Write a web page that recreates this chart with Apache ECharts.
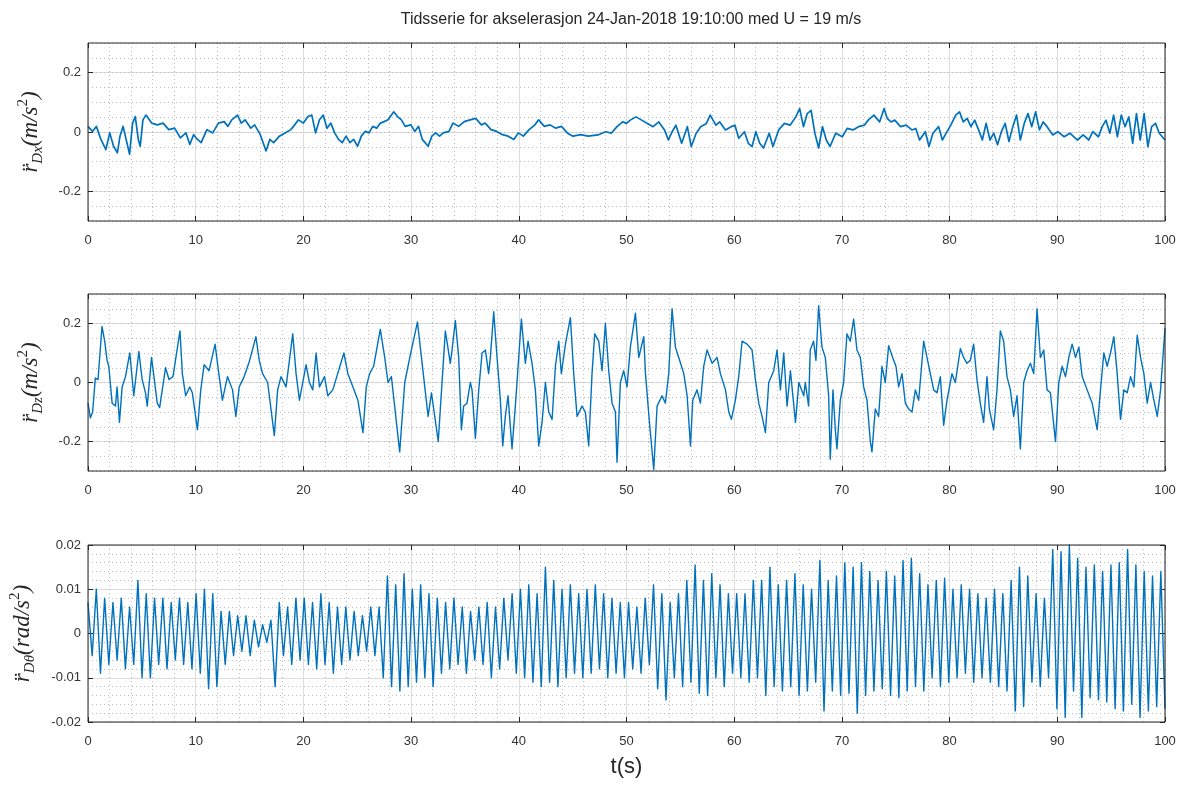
<!DOCTYPE html>
<html>
<head>
<meta charset="utf-8">
<script src="https://cdn.jsdelivr.net/npm/echarts/dist/echarts.min.js"></script>
<style>html,body{margin:0;padding:0;background:#fff}#chart{width:1187px;height:785px}</style>
</head>
<body>
<div id="chart"></div>
<script>
// ---------------- data ----------------
const chartTitle = 'Tidsserie for akselerasjon 24-Jan-2018 19:10:00 med U = 19 m/s';
const timeLabel = 't(s)';
const timeMin = 0, timeMax = 100, timeStep = 10;
const accelMajorTicks = [-0.2, 0, 0.2];
const thetaMajorTicks = [-0.02, -0.01, 0, 0.01, 0.02];

// r''_Dx  [t (s), m/s^2]
const dxSeries = [[0,0.019],[0.42,0.002],[0.78,0.019],[1.2,-0.025],[1.66,-0.059],[2.02,-0.003],[2.37,-0.048],[2.73,-0.07],[2.97,-0.014],[3.26,0.019],[3.61,-0.036],[3.86,-0.075],[4.14,0.03],[4.39,0.052],[4.67,-0.025],[4.85,-0.048],[5.1,0.041],[5.38,0.057],[5.91,0.03],[6.44,0.024],[6.97,0.03],[7.5,0.008],[8.04,0.013],[8.57,-0.02],[9.1,-0.003],[9.45,-0.042],[9.81,-0.009],[10.16,-0.025],[10.51,-0.036],[11.04,0.008],[11.58,-0.003],[12.11,0.03],[12.64,0.035],[12.99,0.019],[13.35,0.041],[13.88,0.057],[14.23,0.03],[14.58,0.041],[15.12,0.013],[15.47,0.024],[16,-0.009],[16.53,-0.064],[16.88,-0.025],[17.24,-0.036],[17.77,-0.014],[18.3,-0.003],[18.83,0.008],[19.19,0.024],[19.54,0.041],[20,0.03],[20.42,0.052],[20.78,0.057],[21.13,-0.003],[21.49,0.041],[21.84,0.057],[22.19,0.013],[22.55,0.03],[22.9,-0.003],[23.26,-0.025],[23.61,-0.036],[23.96,-0.014],[24.32,-0.036],[24.67,-0.025],[25.03,-0.048],[25.38,-0.014],[25.73,0.002],[26.09,-0.003],[26.44,0.019],[26.8,0.013],[27.15,0.03],[27.5,0.035],[27.86,0.041],[28.39,0.068],[28.74,0.052],[29.1,0.041],[29.45,0.019],[29.98,0.024],[30.34,0.002],[30.69,0.019],[31.04,-0.025],[31.58,-0.048],[31.93,-0.014],[32.28,-0.003],[32.64,-0.014],[32.99,-0.003],[33.52,0.002],[33.88,0.03],[34.41,0.019],[34.94,0.035],[35.47,0.041],[36,0.046],[36.53,0.024],[36.88,0.03],[37.42,0.008],[37.95,0.002],[38.48,-0.009],[39.01,-0.014],[39.54,-0.025],[39.96,-0.003],[40.42,-0.014],[40.96,0.008],[41.49,0.024],[41.84,0.041],[42.37,0.019],[42.9,0.024],[43.43,0.013],[43.96,0.019],[44.5,-0.003],[45.03,-0.014],[45.73,-0.009],[46.44,-0.014],[47.35,-0.01],[48.06,0.001],[48.59,-0.004],[49.12,0.018],[49.65,0.034],[50,0.029],[50.35,0.04],[50.88,0.051],[51.41,0.04],[51.94,0.029],[52.47,0.018],[53,0.034],[53.53,0.007],[53.89,-0.027],[54.24,0.001],[54.59,0.023],[55.12,-0.038],[55.65,0.018],[56.01,-0.049],[56.47,-0.004],[56.89,0.018],[57.42,0.029],[57.77,0.057],[58.3,0.023],[58.66,0.034],[59.19,0.007],[59.72,0.018],[60.07,0.023],[60.42,-0.021],[60.95,0.001],[61.31,-0.038],[61.66,-0.049],[62.01,0.001],[62.37,-0.038],[62.72,-0.054],[63.25,-0.004],[63.6,-0.049],[64.13,0.007],[64.66,0.029],[65.19,0.023],[65.72,0.051],[66.08,0.079],[66.43,0.018],[66.78,0.062],[67.14,0.073],[67.49,-0.004],[67.84,-0.054],[68.2,0.018],[68.55,-0.027],[68.9,-0.049],[69.43,-0.004],[70.04,-0.016],[70.49,0.012],[71.02,0.007],[71.55,0.018],[72.08,0.023],[72.44,0.04],[72.97,0.057],[73.5,0.034],[73.92,0.079],[74.2,0.046],[74.56,0.034],[74.91,0.04],[75.44,0.018],[75.97,0.023],[76.5,0.007],[76.86,0.012],[77.21,-0.027],[77.74,0.001],[78.09,-0.049],[78.45,-0.004],[78.98,0.018],[79.33,-0.027],[79.68,-0.004],[80.11,0.023],[80.57,0.057],[80.92,0.068],[81.27,0.034],[81.63,0.046],[81.98,0.018],[82.33,0.04],[82.69,0.007],[83.04,-0.027],[83.39,0.029],[83.75,-0.027],[84.1,-0.004],[84.45,-0.043],[84.81,0.001],[85.16,0.029],[85.51,-0.032],[85.87,0.018],[86.22,0.057],[86.57,-0.027],[86.93,0.029],[87.28,0.062],[87.63,0.018],[87.99,0.068],[88.34,0.007],[88.69,0.034],[89.05,0.018],[89.58,-0.01],[90.04,0.001],[90.64,-0.016],[91.17,-0.004],[91.87,-0.027],[92.4,-0.01],[92.93,-0.027],[93.29,0.001],[93.82,-0.016],[94.17,0.018],[94.52,0.04],[94.88,-0.004],[95.23,0.057],[95.58,-0.016],[95.94,0.057],[96.29,0.018],[96.64,0.051],[97,-0.038],[97.35,0.062],[97.7,-0.027],[98.06,0.062],[98.41,-0.049],[98.76,0.018],[99.12,0.029],[99.47,-0.004],[100,-0.027]];

// r''_Dz  [t (s), m/s^2]
const dzSeries = [[0,-0.07],[0.22,-0.12],[0.43,-0.1],[0.68,0.015],[0.93,0.01],[1.3,0.19],[1.55,0.14],[1.77,0.075],[1.93,0.055],[2.24,-0.07],[2.55,-0.08],[2.7,-0.015],[2.92,-0.135],[3.17,-0.015],[3.48,0.02],[3.88,0.1],[4.25,-0.045],[4.72,0.105],[5.03,0.01],[5.34,-0.035],[5.5,-0.08],[5.9,0.085],[6.43,-0.07],[6.65,-0.085],[7.2,0.05],[7.52,0.01],[7.89,0.02],[8.54,0.175],[8.76,0.03],[9.07,-0.045],[9.44,-0.015],[9.69,-0.035],[10.16,-0.16],[10.47,-0.025],[10.78,0.06],[11.24,0.04],[11.8,0.13],[12.11,0.04],[12.48,-0.06],[12.95,0.02],[13.42,-0.025],[13.73,-0.115],[14.04,-0.015],[14.5,0.02],[14.97,0.07],[15.59,0.155],[15.9,0.075],[16.21,0.03],[16.68,0],[17.3,-0.18],[17.61,-0.025],[17.92,0.02],[18.39,-0.015],[19.01,0.165],[19.32,0.03],[19.63,-0.06],[20.25,0.06],[20.56,0],[20.87,-0.025],[21.18,0.1],[21.49,-0.015],[21.96,0.02],[22.27,-0.045],[22.73,-0.025],[23.76,0.1],[24.13,0.03],[24.6,-0.015],[25.06,-0.06],[25.53,-0.17],[25.84,-0.015],[26.15,0.03],[26.52,0.055],[27.14,0.18],[27.55,0.085],[27.86,0],[28.17,0.02],[28.94,-0.235],[29.41,0],[29.88,0.085],[30.59,0.205],[30.96,0.085],[31.27,-0.015],[31.58,-0.115],[31.89,-0.035],[32.52,-0.2],[33.18,0.175],[33.64,0.065],[33.8,0.11],[34.11,0.21],[34.42,0.085],[34.67,-0.16],[34.88,-0.08],[35.19,-0.07],[35.5,0],[35.66,-0.025],[35.97,-0.19],[36.28,-0.025],[36.59,0.1],[36.9,0.11],[37.2,0.03],[37.36,0.085],[37.67,0.24],[37.98,0.085],[38.29,-0.06],[38.51,-0.215],[38.75,-0.115],[39,-0.045],[39.37,-0.225],[39.68,-0.08],[39.99,0.085],[40.24,0.215],[40.61,0.065],[40.86,0.14],[41.23,0.065],[41.54,-0.025],[41.85,-0.215],[42.16,-0.135],[42.47,0],[42.78,-0.1],[43.09,-0.125],[43.4,0.055],[43.71,0.14],[43.95,0.03],[44.33,0.13],[44.79,0.22],[45.1,0.03],[45.41,-0.115],[45.87,-0.08],[46.18,-0.1],[46.49,-0.215],[46.8,0.03],[47.05,0.165],[47.42,0.14],[47.73,0.04],[48.04,0.2],[48.35,0.04],[48.66,-0.07],[48.97,-0.1],[49.12,-0.27],[49.43,0],[49.74,0.04],[50.05,-0.015],[50.36,0.12],[50.83,0.235],[51.14,0.085],[51.6,0.155],[51.76,0.03],[52.13,-0.135],[52.53,-0.295],[52.84,-0.08],[53.3,-0.045],[53.61,-0.07],[53.92,0.03],[54.23,0.25],[54.54,0.12],[54.85,0.085],[55.32,0.03],[55.63,-0.045],[55.94,-0.215],[56.15,-0.06],[56.55,-0.025],[56.86,-0.07],[57.17,0.055],[57.48,0.11],[57.95,0.065],[58.41,0.085],[58.72,0.03],[59.19,-0.025],[59.5,-0.1],[59.74,-0.125],[60.11,-0.06],[60.42,0.02],[60.73,0.14],[61.2,0.13],[61.66,0.11],[61.97,0.01],[62.28,-0.07],[62.59,-0.115],[62.9,-0.17],[63.21,0],[63.67,0.04],[63.98,0.11],[64.29,-0.025],[64.6,0.1],[64.91,-0.08],[65.22,0.04],[65.69,-0.135],[66,0],[66.46,-0.045],[66.6,0],[66.91,-0.08],[67.06,0.11],[67.37,0.14],[67.59,0.075],[67.84,0.26],[68.15,0.12],[68.46,0.085],[68.77,-0.045],[68.92,-0.26],[69.17,-0.025],[69.39,-0.16],[69.54,-0.225],[69.85,-0.06],[70.16,0],[70.47,0.165],[70.78,0.14],[71.09,0.215],[71.4,0.11],[71.71,0.085],[72.02,-0.015],[72.33,-0.06],[72.64,-0.2],[72.79,-0.235],[73.1,-0.09],[73.41,-0.115],[73.72,0.055],[74.03,0],[74.34,0.125],[74.71,0.085],[75.02,0.055],[75.27,-0.015],[75.58,0.03],[75.89,-0.07],[76.2,-0.09],[76.51,-0.1],[76.82,-0.025],[77.13,-0.06],[77.59,0.14],[77.9,0.085],[78.21,0.03],[78.52,-0.025],[78.83,-0.035],[79.14,0.02],[79.45,-0.145],[79.76,-0.06],[80.22,0.03],[80.53,0],[81,0.115],[81.3,0.085],[81.61,0.065],[81.92,0.075],[82.23,0.13],[82.54,0.01],[82.85,-0.07],[83.16,-0.135],[83.47,0.02],[83.69,-0.09],[84.09,-0.16],[84.4,-0.025],[84.71,0.175],[85.02,0.14],[85.33,0.02],[85.64,-0.025],[85.95,-0.115],[86.26,-0.045],[86.57,-0.225],[86.88,0],[87.19,0.04],[87.5,0.065],[87.81,0.03],[88.12,0.25],[88.43,0.085],[88.74,0.11],[89.05,-0.025],[89.36,-0.035],[89.83,-0.2],[90.14,0],[90.45,0.055],[90.76,0.02],[91.07,0.085],[91.38,0.13],[91.69,0.085],[92,0.12],[92.31,0.02],[92.77,-0.025],[93.24,-0.07],[93.7,-0.16],[94.01,-0.025],[94.32,0.1],[94.63,0.055],[94.94,0.1],[95.25,0.155],[95.56,0.03],[95.87,-0.125],[96.18,-0.025],[96.49,-0.035],[96.8,0.02],[97.11,-0.015],[97.42,0.16],[97.73,0.085],[98.04,0.03],[98.35,-0.07],[98.66,0],[98.97,-0.06],[99.28,-0.115],[99.59,-0.025],[100,0.185]];

// r''_Dtheta  alternating peaks / troughs (rad/s^2), evenly spaced over 0..100 s
const thetaExtremes = [
0.007,-0.005,0.010,-0.009,0.008,-0.007,0.007,-0.006,0.008,-0.008,0.006,-0.007,0.012,-0.010,0.009,-0.010,0.008,-0.007,0.008,-0.008,0.007,-0.006,0.008,-0.007,0.007,-0.008,
0.009,-0.009,0.010,-0.0125,0.009,-0.012,0.005,-0.007,0.005,-0.005,0.004,-0.004,0.004,-0.005,0.003,-0.003,0.002,-0.002,0.003,-0.012,0.007,-0.005,0.006,-0.007,0.008,-0.006,
0.008,-0.007,0.007,-0.008,0.009,-0.007,0.007,-0.009,0.006,-0.007,0.006,-0.006,0.005,-0.005,0.004,-0.004,0.006,-0.005,0.006,-0.010,0.013,-0.012,0.011,-0.013,0.0135,-0.012,
0.010,-0.011,0.011,-0.010,0.009,-0.012,0.008,-0.009,0.007,-0.008,0.008,-0.007,0.006,-0.009,0.005,-0.006,0.006,-0.007,0.007,-0.010,0.006,-0.008,0.008,-0.006,0.009,-0.009,
0.010,-0.010,0.011,-0.011,0.009,-0.012,0.015,-0.011,0.012,-0.012,0.010,-0.010,0.011,-0.009,0.009,-0.010,0.010,-0.009,0.011,-0.008,0.009,-0.010,0.008,-0.009,0.007,-0.010,
0.007,-0.008,0.006,-0.009,0.008,-0.007,0.011,-0.0125,0.009,-0.015,0.007,-0.010,0.009,-0.012,0.012,-0.011,0.0155,-0.0135,0.012,-0.014,0.0135,-0.010,0.011,-0.012,0.009,-0.009,
0.009,-0.010,0.009,-0.011,0.012,-0.010,0.012,-0.014,0.015,-0.012,0.011,-0.013,0.012,-0.012,0.0135,-0.014,0.011,-0.013,0.010,-0.011,0.0165,-0.0175,0.012,-0.013,0.013,-0.014,
0.016,-0.0135,0.015,-0.018,0.016,-0.014,0.014,-0.013,0.012,-0.0125,0.014,-0.014,0.013,-0.0145,0.0165,-0.013,0.017,-0.012,0.0135,-0.013,0.011,-0.010,0.012,-0.012,0.0125,-0.011,
0.010,-0.010,0.011,-0.009,0.010,-0.011,0.009,-0.010,0.008,-0.011,0.010,-0.012,0.009,-0.013,0.012,-0.0175,0.015,-0.0165,0.013,-0.011,0.009,-0.012,0.008,-0.010,0.019,-0.017,
0.0185,-0.019,0.020,-0.013,0.017,-0.019,0.015,-0.0145,0.0155,-0.015,0.014,-0.0155,0.0155,-0.017,0.016,-0.0175,0.019,-0.016,0.0155,-0.019,0.014,-0.0175,0.013,-0.0165,0.014,-0.017
];
const thetaSeries = thetaExtremes.map((v, i) => [timeMin + i * (timeMax - timeMin) / (thetaExtremes.length - 1), v]);

// ---------------- styling ----------------
const lineColor = '#0072BD';
const axisColor = '#262626';
const labelColor = '#333333';
const majorGrid = '#dcdcdc';
const minorGrid = '#bfbfbf';
const sans = "'Liberation Sans', Arial, Helvetica, sans-serif";
const serif = "'Liberation Serif', 'DejaVu Serif', serif";

const gridsPos = [{top: 43, height: 178}, {top: 294, height: 177}, {top: 545, height: 177}];

const mathRich = {
  m: {fontFamily: serif, fontStyle: 'italic', fontSize: 23, lineHeight: 30, color: axisColor},
  s: {fontFamily: serif, fontStyle: 'italic', fontSize: 15, lineHeight: 15, verticalAlign: 'bottom', color: axisColor},
  p: {fontFamily: serif, fontSize: 15, lineHeight: 15, verticalAlign: 'top', color: axisColor}
};
function yName(sub, unit) { return '{m|r\u0308}{s|' + sub + '}{m|(' + unit + '/s}{p|2}{m|)}'; }

const grids = [], xAxes = [], yAxes = [], series = [];
const panels = [
  {data: dxSeries, kind: 'accel', name: yName('Dx', 'm'), width: 1.7},
  {data: dzSeries, kind: 'accel', name: yName('Dz', 'm'), width: 1.4},
  {data: thetaSeries, kind: 'theta', name: yName('D\u03b8', 'rad'), width: 1.4}
];

panels.forEach((p, i) => {
  grids.push({left: 88, right: 22, top: gridsPos[i].top, height: gridsPos[i].height,
    show: true, borderColor: axisColor, borderWidth: 1, backgroundColor: 'transparent', z: 5});
  const xBottom = xAxes.length;
  xAxes.push({
    gridIndex: i, type: 'value', min: timeMin, max: timeMax, interval: timeStep, position: 'bottom',
    axisLine: {show: false, onZero: false},
    axisTick: {show: true, inside: true, length: 5, lineStyle: {color: axisColor}},
    axisLabel: {color: labelColor, fontSize: 13, fontFamily: sans, margin: 13},
    splitLine: {show: true, lineStyle: {color: majorGrid, width: 1}},
    minorTick: {show: false, splitNumber: 5},
    minorSplitLine: {show: true, lineStyle: {color: minorGrid, width: 1, type: [1, 3]}},
    name: i === 2 ? timeLabel : '', nameLocation: 'middle', nameGap: 34,
    nameTextStyle: {fontFamily: sans, fontSize: 22, color: axisColor}
  });
  xAxes.push({
    gridIndex: i, type: 'value', min: timeMin, max: timeMax, interval: timeStep, position: 'top',
    axisLine: {show: false, onZero: false},
    axisTick: {show: true, inside: true, length: 5, lineStyle: {color: axisColor}},
    axisLabel: {show: false}, splitLine: {show: false}
  });
  const yMain = yAxes.length;
  if (p.kind === 'accel') {
    yAxes.push({
      gridIndex: i, type: 'value', min: -0.3, max: 0.3, interval: 0.1, position: 'left',
      axisLine: {show: false, onZero: false},
      axisTick: {show: true, inside: true, length: 5, lineStyle: {color: axisColor}, customValues: accelMajorTicks},
      axisLabel: {color: labelColor, fontSize: 13, fontFamily: sans, margin: 7, customValues: accelMajorTicks},
      splitLine: {show: true, lineStyle: {color: majorGrid, width: 1}},
      name: p.name, nameLocation: 'middle', nameGap: 42, nameRotate: 90,
      nameTextStyle: {rich: mathRich}
    });
    yAxes.push({
      gridIndex: i, type: 'value', min: -0.3, max: 0.3, interval: 0.05, position: 'left',
      axisLine: {show: false, onZero: false}, axisTick: {show: false}, axisLabel: {show: false},
      splitLine: {show: true, lineStyle: {color: minorGrid, width: 1, type: [1, 3]}}
    });
    yAxes.push({
      gridIndex: i, type: 'value', min: -0.3, max: 0.3, interval: 0.1, position: 'right',
      axisLine: {show: false, onZero: false},
      axisTick: {show: true, inside: true, length: 5, lineStyle: {color: axisColor}, customValues: accelMajorTicks},
      axisLabel: {show: false}, splitLine: {show: false}
    });
  } else {
    yAxes.push({
      gridIndex: i, type: 'value', min: thetaMajorTicks[0], max: thetaMajorTicks[thetaMajorTicks.length - 1], interval: 0.01, position: 'left',
      axisLine: {show: false, onZero: false},
      axisTick: {show: true, inside: true, length: 5, lineStyle: {color: axisColor}},
      axisLabel: {color: labelColor, fontSize: 13, fontFamily: sans, margin: 7},
      splitLine: {show: true, lineStyle: {color: majorGrid, width: 1}},
      minorTick: {show: false, splitNumber: 5},
      minorSplitLine: {show: true, lineStyle: {color: minorGrid, width: 1, type: [1, 3]}},
      name: p.name, nameLocation: 'middle', nameGap: 50, nameRotate: 90,
      nameTextStyle: {rich: mathRich}
    });
    yAxes.push({
      gridIndex: i, type: 'value', min: thetaMajorTicks[0], max: thetaMajorTicks[thetaMajorTicks.length - 1], interval: 0.01, position: 'right',
      axisLine: {show: false, onZero: false},
      axisTick: {show: true, inside: true, length: 5, lineStyle: {color: axisColor}},
      axisLabel: {show: false}, splitLine: {show: false}
    });
  }
  series.push({
    type: 'line', xAxisIndex: xBottom, yAxisIndex: yMain, data: p.data,
    showSymbol: false, symbol: 'none', smooth: false,
    lineStyle: {color: lineColor, width: p.width, join: 'round'}, itemStyle: {color: lineColor},
    animation: false, silent: true, z: 2
  });
});

const chart = echarts.init(document.getElementById('chart'), null, {renderer: 'canvas'});
chart.setOption({
  backgroundColor: '#ffffff',
  animation: false,
  title: {
    text: chartTitle, left: 626, top: 7, textAlign: 'center',
    textStyle: {fontFamily: sans, fontSize: 16, fontWeight: 'normal', color: axisColor}
  },
  grid: grids, xAxis: xAxes, yAxis: yAxes, series: series
});
</script>
</body>
</html>
